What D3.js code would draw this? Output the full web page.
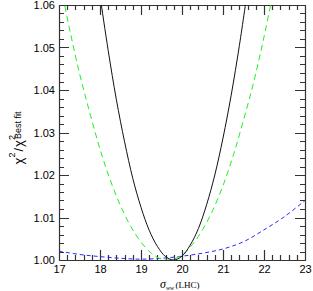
<!DOCTYPE html>
<html><head><meta charset="utf-8">
<script src="https://cdn.jsdelivr.net/npm/d3@7"></script>
<style>body{margin:0;background:#fff}</style>
</head><body>
<svg id="c" width="313" height="291"></svg>
<script>
const xTicks = [17, 18, 19, 20, 21, 22, 23];
const yTicks = [1.00, 1.01, 1.02, 1.03, 1.04, 1.05, 1.06];
const yTickLabels = ["1.00", "1.01", "1.02", "1.03", "1.04", "1.05", "1.06"];

const blackX = [17.95, 18.0, 18.2, 18.4, 18.6, 18.8, 19.0, 19.2, 19.4, 19.6, 19.8, 20.0, 20.2, 20.4, 20.6, 20.8, 21.0, 21.2, 21.4, 21.6];
const blackY = [1.0657, 1.0622, 1.0493, 1.0377, 1.0278, 1.0192, 1.0124, 1.0070, 1.0032, 1.0008, 1.0000, 1.0009, 1.0035, 1.0074, 1.0130, 1.0200, 1.0287, 1.0388, 1.0505, 1.0636];

const greenX = [17.0, 17.25, 17.5, 17.75, 18.0, 18.25, 18.5, 18.75, 19.0, 19.25, 19.5, 19.75, 20.0, 20.25, 20.5, 20.75, 21.0, 21.25, 21.5, 21.75, 22.0, 22.25];
const greenY = [1.0667, 1.0547, 1.0439, 1.0347, 1.0261, 1.0188, 1.0128, 1.0079, 1.0042, 1.0016, 1.0002, 1.0001, 1.0012, 1.0036, 1.0071, 1.0117, 1.0175, 1.0246, 1.0329, 1.0419, 1.0525, 1.0642];

const blueX = [17.0, 17.5, 18.0, 18.5, 19.0, 19.5, 20.0, 20.5, 21.0, 21.5, 22.0, 22.5, 23.0];
const blueY = [1.0021, 1.0013, 1.0008, 1.0004, 1.0002, 1.0004, 1.0009, 1.0016, 1.0026, 1.0043, 1.0071, 1.0102, 1.0140];

const svg = d3.select("#c");
const L = 59, R = 305, T = 5, B = 260;
const x = d3.scaleLinear().domain([17, 23]).range([L, R]);
const y = d3.scaleLinear().domain([1.0, 1.06]).range([B, T]);

svg.append("defs").append("clipPath").attr("id", "clip")
  .append("rect").attr("x", L).attr("y", T).attr("width", R - L).attr("height", B - T);

const minorX = [];
for (let i = 0; i < 30; i++) { if (i % 5 !== 0) minorX.push(17 + i * 0.2); }
const minorY = [];
for (let i = 0; i < 30; i++) { if (i % 5 !== 0) minorY.push(1.0 + i * 0.002); }

// tick labels via d3 axes
svg.append("g").attr("transform", `translate(0,${B})`)
  .call(d3.axisBottom(x).tickValues(xTicks).tickSizeInner(0).tickSizeOuter(0).tickPadding(5).tickFormat(d3.format("d")))
  .call(g => g.select(".domain").remove())
  .call(g => g.selectAll("text").attr("font-family", "Liberation Sans, Arial, sans-serif").attr("font-size", 11).attr("fill", "#000"));
svg.append("g").attr("transform", `translate(${L},0)`)
  .call(d3.axisLeft(y).tickValues(yTicks).tickSizeInner(0).tickSizeOuter(0).tickPadding(4).tickFormat((d, i) => yTickLabels[i]))
  .call(g => g.select(".domain").remove())
  .call(g => g.selectAll("text").attr("font-family", "Liberation Sans, Arial, sans-serif").attr("font-size", 11).attr("fill", "#000"));

// frame + inward ticks on all four sides, one path
const path = d3.path();
path.rect(L + 0.5, T + 0.5, R - L, B - T);
function tickX(v, len) {
  const px = Math.round(x(v)) + 0.5;
  path.moveTo(px, B); path.lineTo(px, B - len);
  path.moveTo(px, T); path.lineTo(px, T + len);
}
function tickY(v, len) {
  const py = Math.round(y(v)) + 0.5;
  path.moveTo(L, py); path.lineTo(L + len, py);
  path.moveTo(R, py); path.lineTo(R - len, py);
}
xTicks.forEach(v => tickX(v, 10));
minorX.forEach(v => tickX(v, 5));
yTicks.forEach(v => tickY(v, 10));
minorY.forEach(v => tickY(v, 5));
svg.append("path").attr("d", path.toString()).attr("fill", "none").attr("stroke", "#333").attr("stroke-width", 1.2);

const line = d3.line().x(d => x(d[0])).y(d => y(d[1])).curve(d3.curveCatmullRom);
const plot = svg.append("g").attr("clip-path", "url(#clip)");
plot.append("path").datum(blueX.map((v, i) => [v, blueY[i]])).attr("d", line)
  .attr("fill", "none").attr("stroke", "#2a2aff").attr("stroke-width", 1).attr("stroke-dasharray", "4,3");
plot.append("path").datum(greenX.map((v, i) => [v, greenY[i]])).attr("d", line)
  .attr("fill", "none").attr("stroke", "#22ee22").attr("stroke-width", 1).attr("stroke-dasharray", "6,4");
plot.append("path").datum(blackX.map((v, i) => [v, blackY[i]])).attr("d", line)
  .attr("fill", "none").attr("stroke", "#111").attr("stroke-width", 1);

// x title
const xt = svg.append("text").attr("x", 160).attr("y", 288).attr("text-anchor", "start")
  .attr("font-family", "Liberation Serif, Times New Roman, serif").attr("fill", "#000");
xt.append("tspan").attr("font-style", "italic").attr("font-size", 12).text("σ");
xt.append("tspan").attr("font-style", "italic").attr("font-size", 6).attr("dy", 1.5).text("ww");
xt.append("tspan").attr("font-size", 9).attr("dy", -1.5).attr("dx", 1.5).text("(LHC)");

// y title
const yt = svg.append("text").attr("transform", "translate(23,138) rotate(-90)").attr("text-anchor", "middle")
  .attr("font-family", "Liberation Sans, Arial, sans-serif").attr("font-size", 13).attr("fill", "#000");
yt.append("tspan").text("χ");
yt.append("tspan").attr("font-size", 9).attr("dy", -8).text("2");
yt.append("tspan").attr("dy", 8).attr("dx", 1).text("/");
yt.append("tspan").attr("dx", 1).text("χ");
yt.append("tspan").attr("font-size", 9).attr("dy", -8).text("2");
yt.append("tspan").attr("font-size", 9).attr("dy", 6).attr("dx", -4).text("Best fit");
</script>
</body></html>
